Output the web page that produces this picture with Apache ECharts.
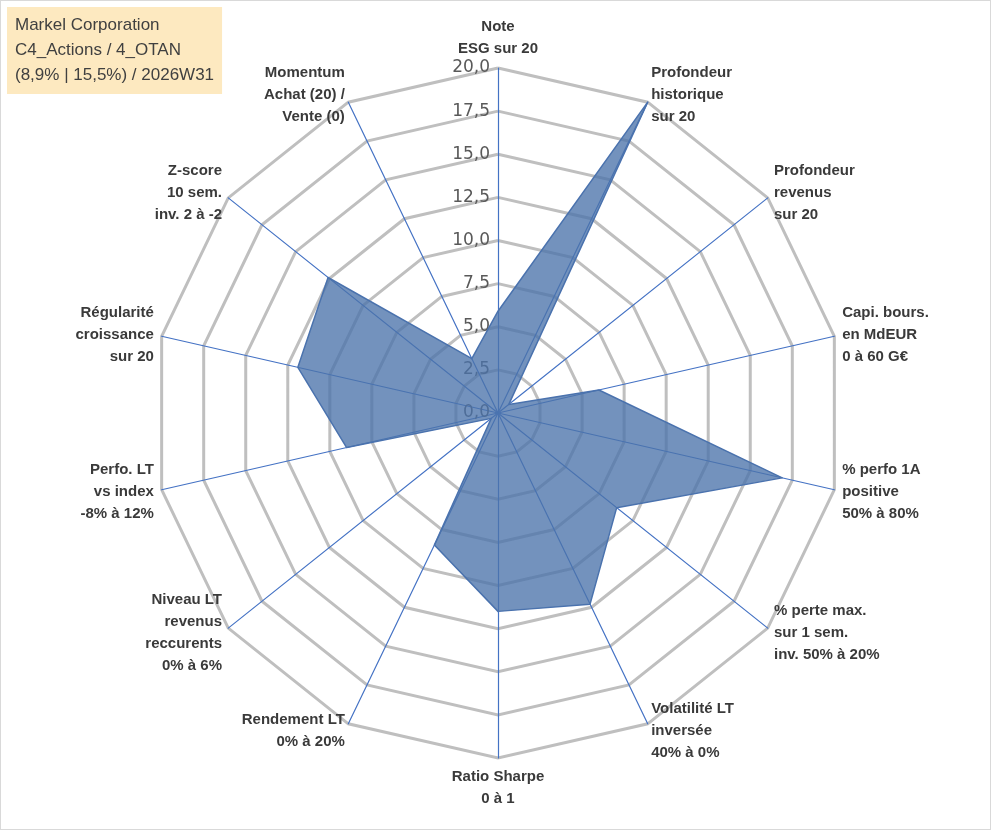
<!DOCTYPE html>
<html><head><meta charset="utf-8">
<script src="https://cdn.jsdelivr.net/npm/echarts@6/dist/echarts.min.js"></script>
<style>html,body{margin:0;background:#fff}#c{width:989px;height:828px;border:1px solid #d9d9d9}</style>
</head><body><div id="c"></div>
<script>
// clockwise order starting at top
const axes = ['Note\nESG sur 20','Profondeur\nhistorique\nsur 20','Profondeur\nrevenus\nsur 20','Capi. bours.\nen MdEUR\n0 à 60 G€','% perfo 1A\npositive\n50% à 80%','% perte max.\nsur 1 sem.\ninv. 50% à 20%','Volatilité LT\ninversée\n40% à 0%','Ratio Sharpe\n0 à 1','Rendement LT\n0% à 20%','Niveau LT\nrevenus\nreccurents\n0% à 6%','Perfo. LT\nvs index\n-8% à 12%','Régularité\ncroissance\nsur 20','Z-score\n10 sem.\ninv. 2 à -2','Momentum\nAchat (20) /\nVente (0)'];
const values = [5.9, 20, 0.8, 6, 16.9, 8.8, 12.3, 11.5, 8.5, 0.5, 9, 11.9, 12.6, 3.5];
const tickLabels = ['0,0','2,5','5,0','7,5','10,0','12,5','15,0','17,5','20,0'];

// ECharts lays indicators counterclockwise: reverse all but the first
const order = [0].concat(axes.map((_, i) => i).slice(1).reverse());
const chart = echarts.init(document.getElementById('c'));
chart.setOption({
  animation: false,
  title: {
    text: 'Markel Corporation\nC4_Actions / 4_OTAN\n(8,9% | 15,5%) / 2026W31',
    left: 6, top: 6, padding: [6, 8],
    backgroundColor: '#fde9c0',
    textStyle: {fontFamily: 'Liberation Sans', fontWeight: 'normal', fontSize: 17, color: '#404040', lineHeight: 25}
  },
  grid: {left: 497, width: 1, top: 67, height: 345, show: false},
  xAxis: {show: false, type: 'value'},
  yAxis: {
    type: 'value', min: 0, max: 20, interval: 2.5, position: 'left',
    axisLine: {show: false}, axisTick: {show: false}, splitLine: {show: false},
    axisLabel: {formatter: v => tickLabels[Math.round(v / 2.5)], fontFamily: 'DejaVu Sans', fontSize: 17, color: '#595959', margin: 8}
  },
  radar: {
    center: [497, 412], radius: 345, startAngle: 90, splitNumber: 8, shape: 'polygon',
    indicator: order.map(i => ({name: axes[i], min: 0, max: 20})),
    axisName: {color: '#3a3a3a', fontFamily: 'Liberation Sans', fontWeight: 'bold', fontSize: 15, lineHeight: 22},
    nameGap: 8,
    axisLine: {lineStyle: {color: '#4472c4', width: 1.2}},
    splitLine: {lineStyle: {color: '#bfbfbf', width: 3}},
    splitArea: {show: false}
  },
  series: [{
    type: 'radar', symbol: 'none', z: 5,
    lineStyle: {color: '#4a72b0', width: 1.5},
    areaStyle: {color: 'rgba(75,115,170,0.78)', opacity: 1},
    data: [{value: order.map(i => values[i])}]
  }]
});
</script></body></html>
